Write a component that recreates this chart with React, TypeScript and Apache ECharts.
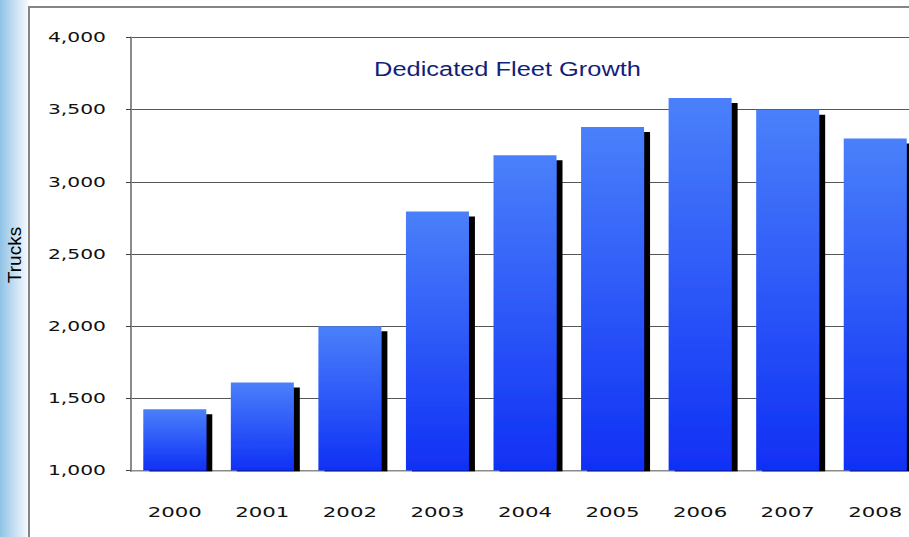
import React, { useEffect, useRef } from "react";
import * as echarts from "echarts";

const years = ["2000", "2001", "2002", "2003", "2004", "2005", "2006", "2007", "2008"];
const trucks = [1425, 1610, 2000, 2795, 3185, 3380, 3580, 3500, 3300];
const yTicks = [1000, 1500, 2000, 2500, 3000, 3500, 4000];
const yTickLabels = ["1,000", "1,500", "2,000", "2,500", "3,000", "3,500", "4,000"];
const chartTitle = "Dedicated Fleet Growth";
const yAxisTitle = "Trucks";

export default function App() {
  const ref = useRef<HTMLDivElement>(null);

  useEffect(() => {
    const chart = echarts.init(ref.current!, null, { renderer: "svg" });
    const labelFont = "'DejaVu Sans', sans-serif";

    chart.setOption({
      animation: false,
      backgroundColor: "#ffffff",
      grid: { left: 131, top: 37.5, width: 788, height: 433, containLabel: false },
      xAxis: {
        type: "category",
        data: years,
        axisLine: { show: true, lineStyle: { color: "#8a8a8a", width: 2 } },
        axisTick: { show: false },
        axisLabel: { show: false },
        splitLine: { show: false },
      },
      yAxis: {
        type: "value",
        min: 1000,
        max: 4000,
        interval: 500,
        axisLine: { show: true, lineStyle: { color: "#8a8a8a", width: 2 } },
        axisTick: { show: true, length: 5, lineStyle: { color: "#444", width: 1 } },
        axisLabel: { show: false },
        splitLine: { show: true, lineStyle: { color: "#555", width: 1 } },
      },
      series: [
        {
          type: "bar",
          data: trucks,
          barWidth: 63,
          itemStyle: {
            color: new echarts.graphic.LinearGradient(0, 0, 0, 1, [
              { offset: 0, color: "#4a80fa" },
              { offset: 1, color: "#1030f5" },
            ]),
            shadowColor: "#000000",
            shadowOffsetX: 6,
            shadowOffsetY: 5,
            shadowBlur: 0,
          },
        },
      ],
    });

    const graphics: any[] = [
      {
        type: "rect",
        z: -10,
        silent: true,
        shape: { x: 0, y: 0, width: 28, height: 537 },
        style: {
          fill: new echarts.graphic.LinearGradient(0, 0, 1, 0, [
            { offset: 0, color: "#8fc2e6" },
            { offset: 0.6, color: "#cfe4f4" },
            { offset: 1, color: "#f4f9fd" },
          ]),
        },
      },
      {
        type: "rect",
        z: -5,
        silent: true,
        shape: { x: 29, y: 7, width: 1000, height: 1000 },
        style: { fill: "#ffffff", stroke: "#858585", lineWidth: 2 },
      },
      {
        type: "rect",
        z: 100,
        silent: true,
        shape: { x: 132, y: 471.5, width: 820, height: 7 },
        style: { fill: "#ffffff" },
      },
      {
        type: "text",
        z: 100,
        x: 507.5,
        y: 69,
        scaleX: 1.27,
        style: {
          text: chartTitle,
          fontFamily: "'Liberation Sans', Arial, sans-serif",
          fontSize: 20,
          fill: "#141e7a",
          textAlign: "center",
          textVerticalAlign: "middle",
        },
      },
      {
        type: "text",
        z: 100,
        x: 14,
        y: 255,
        rotation: Math.PI / 2,
        style: {
          text: yAxisTitle,
          fontFamily: "'Liberation Sans', Arial, sans-serif",
          fontSize: 19,
          fill: "#000000",
          textAlign: "center",
          textVerticalAlign: "middle",
        },
      },
    ];

    years.forEach((yr) => {
      const p = chart.convertToPixel({ gridIndex: 0 }, [yr, 1000]) as number[];
      graphics.push({
        type: "text",
        z: 100,
        x: p[0],
        y: 512,
        scaleX: 1.52,
        style: {
          text: yr,
          fontFamily: labelFont,
          fontSize: 14,
          fill: "#111111",
          textAlign: "center",
          textVerticalAlign: "middle",
        },
      });
    });

    yTicks.forEach((v, i) => {
      const p = chart.convertToPixel({ gridIndex: 0 }, [years[0], v]) as number[];
      graphics.push({
        type: "text",
        z: 100,
        x: 106,
        y: p[1],
        scaleX: 1.45,
        style: {
          text: yTickLabels[i],
          fontFamily: labelFont,
          fontSize: 14,
          fill: "#111111",
          textAlign: "right",
          textVerticalAlign: "middle",
        },
      });
    });

    chart.setOption({ graphic: graphics });

    return () => chart.dispose();
  }, []);

  return (
    <div style={{ position: "absolute", left: 0, top: 0, width: 909, height: 537, overflow: "hidden" }}>
      <div ref={ref} style={{ width: 960, height: 537 }} />
    </div>
  );
}
